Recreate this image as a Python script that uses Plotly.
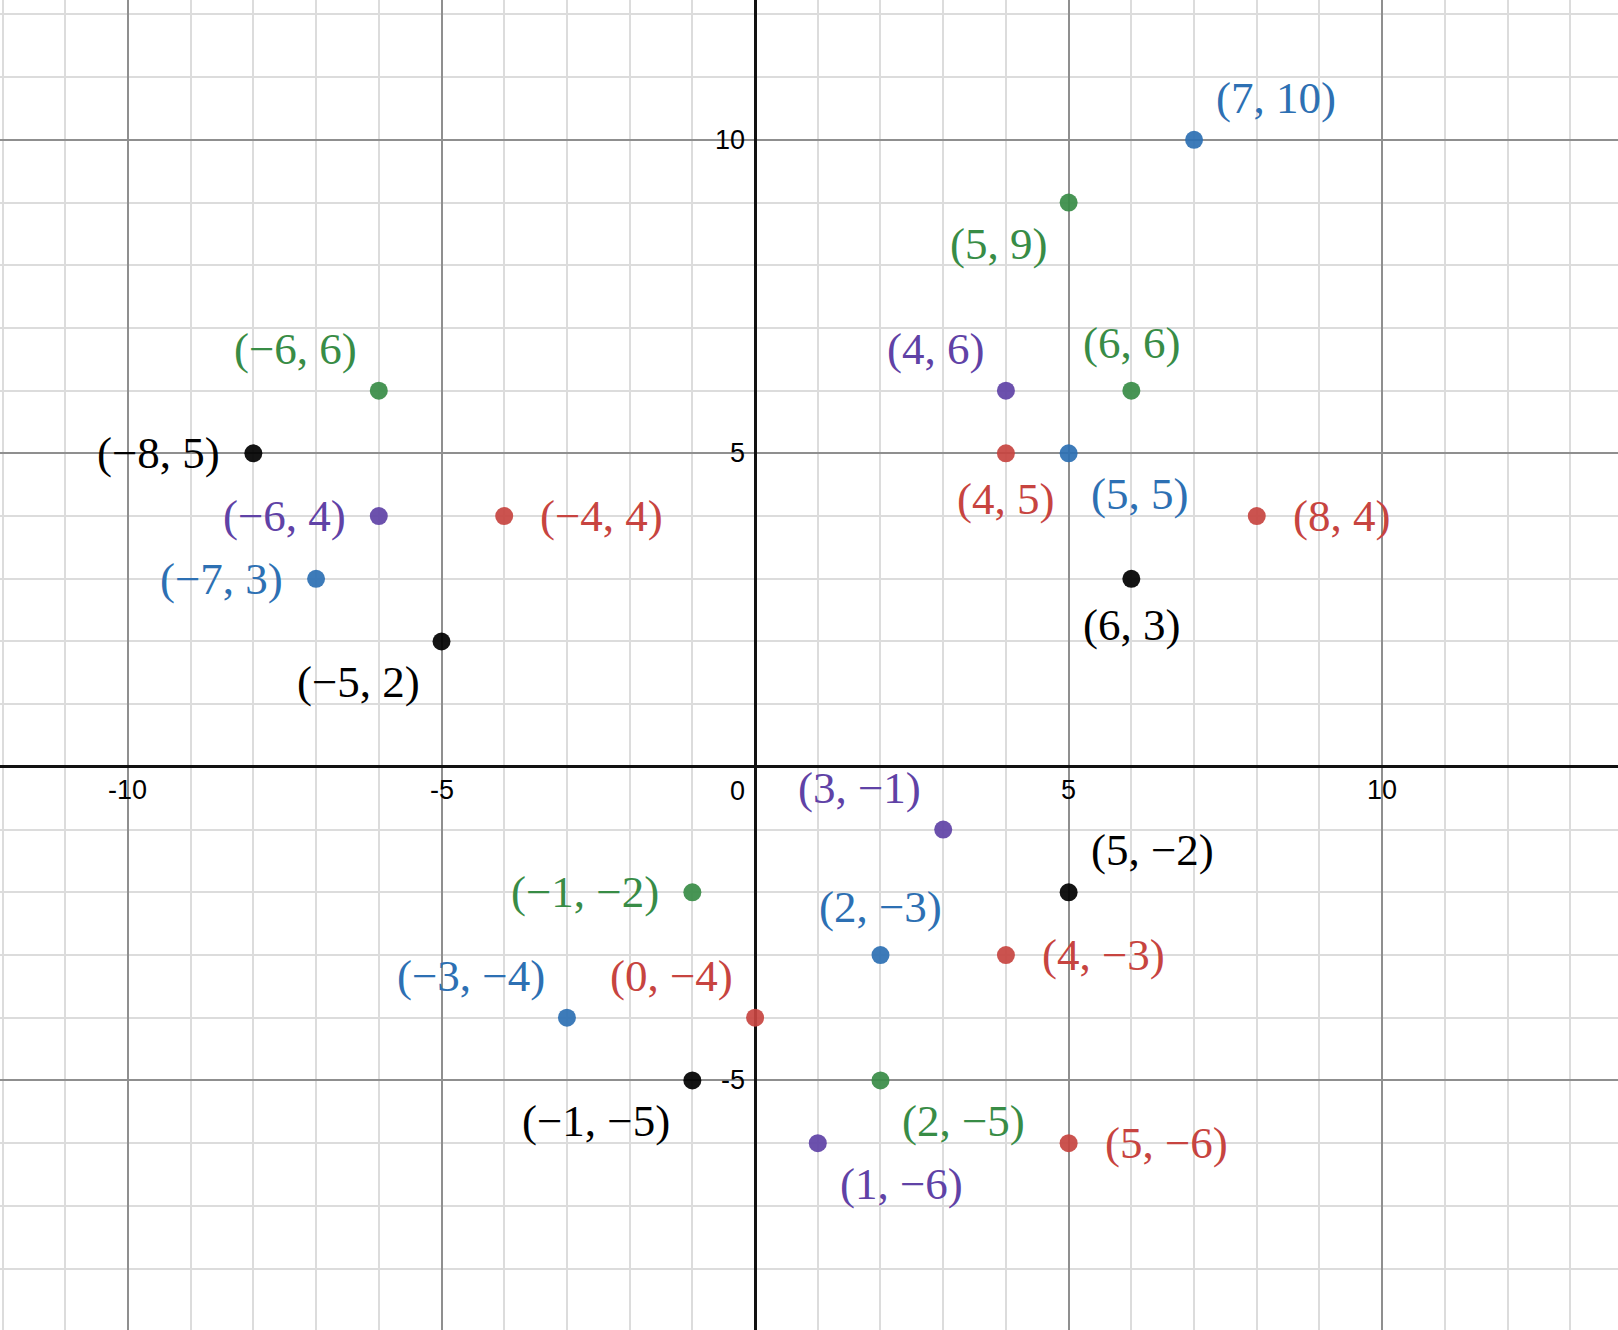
import plotly.graph_objects as go

# ---- data ----
blue_x = [7, 5, -7, 2, -3]
blue_y = [10, 5, 3, -3, -4]
green_x = [5, -6, 6, -1, 2]
green_y = [9, 6, 6, -2, -5]
purple_x = [4, -6, 3, 1]
purple_y = [6, 4, -1, -6]
red_x = [4, -4, 8, 4, 0, 5]
red_y = [5, 4, 4, -3, -4, -6]
black_x = [-8, 6, -5, 5, -1]
black_y = [5, 3, 2, -2, -5]

x_tick_vals = [-10, -5, 5, 10]
y_tick_vals = [-5, 5, 10]

# ---- styles ----
series = [
    ("blue", blue_x, blue_y, "#2d70b3", ["tr", "br", "l", "t", "tl"]),
    ("green", green_x, green_y, "#388c46", ["bl", "tl", "t", "l", "br"]),
    ("purple", purple_x, purple_y, "#6042a6", ["tl", "l", "tl", "br"]),
    ("red", red_x, red_y, "#c74440", ["b", "r", "r", "r", "tl", "r"]),
    ("black", black_x, black_y, "#000000", ["l", "b", "bl", "tr", "bl"]),
]

LABEL_FONT = dict(family="Liberation Serif, Times New Roman, serif", size=45)
TICK_FONT = dict(family="Liberation Sans, Arial, sans-serif", size=27, color="black")


def fmt(v):
    return str(v).replace("-", "\u2212")


def placement(code):
    diag = len(code) == 2
    xanchor, xshift = "center", 0
    yshift = 0
    if "r" in code:
        xanchor, xshift = "left", (20 if diag else 34)
    if "l" in code:
        xanchor, xshift = "right", -(20 if diag else 31)
    if "t" in code:
        yshift = 42 if diag else 48
    if "b" in code:
        yshift = -(41 if diag else 46)
    return xanchor, xshift, yshift


fig = go.Figure()
annotations = []
for name, xs, ys, color, orient in series:
    fig.add_trace(go.Scatter(
        x=xs, y=ys, mode="markers", name=name,
        marker=dict(color=color, size=18, opacity=0.92, line=dict(width=0)),
        hoverinfo="x+y", showlegend=False,
    ))
    for x, y, o in zip(xs, ys, orient):
        xa, xs_, ys_ = placement(o)
        annotations.append(dict(
            x=x, y=y, xref="x", yref="y", text=f"({fmt(x)}, {fmt(y)})",
            showarrow=False, xanchor=xa, yanchor="middle",
            xshift=xs_, yshift=ys_, font=dict(LABEL_FONT, color=color),
        ))

for v in x_tick_vals:
    annotations.append(dict(x=v, y=0, xref="x", yref="y", text=str(v),
                            showarrow=False, xanchor="center", yanchor="middle",
                            yshift=-23, font=TICK_FONT))
annotations.append(dict(x=0, y=0, xref="x", yref="y", text="0",
                        showarrow=False, xanchor="center", yanchor="middle",
                        xshift=-18, yshift=-24, font=TICK_FONT))
for v in y_tick_vals:
    annotations.append(dict(x=0, y=v, xref="x", yref="y", text=str(v),
                            showarrow=False, xanchor="right", yanchor="middle",
                            xshift=-8, font=TICK_FONT))

axis_common = dict(
    showgrid=True, gridcolor="#8f8f8f", gridwidth=2,
    tick0=0, dtick=5,
    minor=dict(dtick=1, showgrid=True, gridcolor="#dcdcdc", gridwidth=2),
    zeroline=True, zerolinecolor="#111111", zerolinewidth=3,
    showticklabels=False, ticks="", showline=False,
)

fig.update_layout(
    width=1618, height=1330,
    margin=dict(l=0, r=0, t=0, b=0),
    paper_bgcolor="white", plot_bgcolor="white",
    xaxis=dict(axis_common, range=[-12.04, 13.76]),
    yaxis=dict(axis_common, range=[-8.98, 12.23]),
    annotations=annotations,
    showlegend=False,
)

fig.write_html(
    "out.html",
    config={"displayModeBar": False},
    post_script="document.body.style.margin='0px';document.body.style.overflow='hidden';",
)
